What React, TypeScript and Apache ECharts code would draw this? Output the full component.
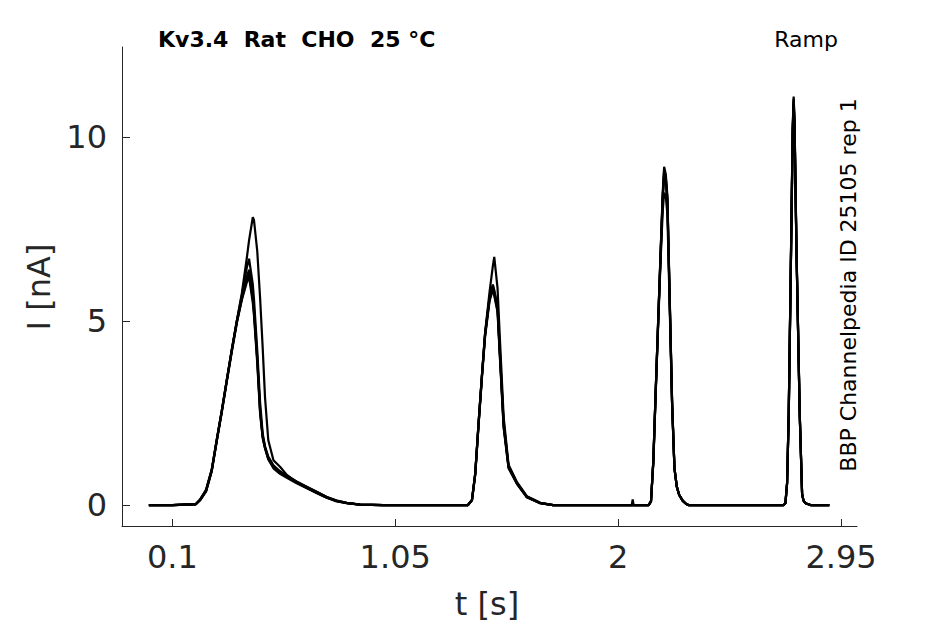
import React, { useEffect, useRef } from "react";
import * as echarts from "echarts";

// Time points (s) for each ramp segment
const ramp1Times = [0, 0.1, 0.2, 0.218, 0.244, 0.268, 0.289, 0.311, 0.332, 0.353, 0.375, 0.396, 0.417, 0.427, 0.443, 0.448, 0.462, 0.474, 0.485, 0.495, 0.509, 0.531, 0.559, 0.588, 0.63, 0.673, 0.715, 0.758, 0.8, 0.844, 0.9, 1.0, 1.2, 1.36];
const ramp2Times = [1.377, 1.391, 1.405, 1.42, 1.433, 1.452, 1.466, 1.472, 1.486, 1.497, 1.512, 1.533, 1.569, 1.611, 1.668, 1.723, 1.9, 2.05];
const ramp3Times = [2.058, 2.062, 2.066, 2.13, 2.14, 2.15, 2.16, 2.17, 2.18, 2.19, 2.196, 2.203, 2.21, 2.22, 2.23, 2.24, 2.25, 2.26, 2.275, 2.29, 2.3, 2.6];
const ramp4Times = [2.705, 2.713, 2.72, 2.727, 2.737, 2.744, 2.748, 2.752, 2.76, 2.774, 2.784, 2.79, 2.798, 2.82, 2.9];

// Currents (nA), one array per sweep and ramp
const sweep1Ramp1 = [0, 0, 0.03, 0.14, 0.42, 0.97, 1.75, 2.57, 3.4, 4.2, 5.02, 5.75, 6.7, 7.2, 7.83, 7.75, 6.9, 5.64, 4.29, 2.93, 1.76, 1.22, 1.04, 0.82, 0.62, 0.47, 0.33, 0.2, 0.11, 0.05, 0.01, 0, 0, 0];
const sweep2Ramp1 = [0, 0, 0.02, 0.14, 0.4, 0.95, 1.76, 2.57, 3.39, 4.2, 5.01, 5.7, 6.45, 6.7, 6.0, 5.6, 4.2, 2.8, 1.95, 1.6, 1.32, 1.08, 0.92, 0.8, 0.64, 0.5, 0.36, 0.22, 0.12, 0.06, 0.01, 0, 0, 0];
const sweep3Ramp1 = [0, 0, 0.02, 0.13, 0.38, 0.93, 1.74, 2.55, 3.37, 4.18, 4.98, 5.62, 6.2, 6.4, 5.7, 5.35, 4.0, 2.6, 1.88, 1.57, 1.27, 1.04, 0.88, 0.77, 0.61, 0.48, 0.35, 0.21, 0.11, 0.05, 0.01, 0, 0, 0];
const sweep4Ramp1 = [0, 0, 0.02, 0.13, 0.37, 0.92, 1.72, 2.53, 3.35, 4.15, 4.95, 5.58, 6.05, 6.2, 5.5, 5.15, 3.85, 2.49, 1.82, 1.54, 1.24, 1.0, 0.85, 0.74, 0.59, 0.46, 0.33, 0.2, 0.1, 0.05, 0.01, 0, 0, 0];
const sweep5Ramp1 = [0, 0, 0.03, 0.15, 0.41, 0.96, 1.77, 2.58, 3.4, 4.22, 5.0, 5.6, 6.12, 6.3, 5.6, 5.25, 3.95, 2.55, 1.86, 1.56, 1.26, 1.02, 0.9, 0.79, 0.63, 0.49, 0.36, 0.22, 0.12, 0.06, 0.01, 0, 0, 0];

const sweep1Ramp2 = [0.14, 0.86, 2.21, 3.57, 4.7, 5.8, 6.5, 6.75, 5.9, 4.4, 2.4, 1.1, 0.62, 0.24, 0.06, 0, 0, 0];
const sweep2Ramp2 = [0.14, 0.86, 2.21, 3.57, 4.65, 5.64, 5.96, 5.8, 5.37, 4.02, 2.21, 1.04, 0.59, 0.22, 0.05, 0, 0, 0];
const sweep3Ramp2 = [0.13, 0.84, 2.18, 3.54, 4.62, 5.6, 5.9, 5.75, 5.3, 3.95, 2.15, 1.02, 0.58, 0.21, 0.05, 0, 0, 0];
const sweep4Ramp2 = [0.12, 0.82, 2.15, 3.5, 4.58, 5.55, 5.85, 5.7, 5.25, 3.9, 2.1, 1.0, 0.57, 0.21, 0.05, 0, 0, 0];
const sweep5Ramp2 = [0.14, 0.87, 2.22, 3.58, 4.66, 5.66, 6.0, 5.85, 5.4, 4.05, 2.24, 1.06, 0.6, 0.23, 0.06, 0, 0, 0];

const sweep1Ramp3 = [0, 0.15, 0, 0, 0.1, 1.2, 3.1, 4.9, 6.7, 8.5, 9.2, 9.0, 8.4, 5.6, 2.8, 1.0, 0.5, 0.28, 0.12, 0.03, 0, 0];
const sweep2Ramp3 = [0, 0, 0, 0, 0.1, 1.2, 3.1, 4.9, 6.7, 8.4, 9.1, 8.9, 8.3, 5.5, 2.75, 1.0, 0.5, 0.28, 0.12, 0.03, 0, 0];
const sweep3Ramp3 = [0, 0, 0, 0, 0.1, 1.15, 3.0, 4.8, 6.5, 8.0, 8.5, 8.4, 7.9, 5.3, 2.7, 1.0, 0.5, 0.27, 0.11, 0.03, 0, 0];
const sweep4Ramp3 = [0, 0, 0, 0, 0.1, 1.2, 3.05, 4.85, 6.6, 8.3, 8.95, 8.8, 8.2, 5.5, 2.75, 1.0, 0.5, 0.28, 0.12, 0.03, 0, 0];
const sweep5Ramp3 = [0, 0, 0, 0, 0.1, 1.2, 3.1, 4.9, 6.65, 8.4, 9.05, 8.9, 8.3, 5.5, 2.8, 1.0, 0.5, 0.28, 0.12, 0.03, 0, 0];

const sweep1Ramp4 = [0, 0.05, 0.6, 2.49, 7.0, 10.3, 11.11, 10.4, 7.0, 2.49, 0.3, 0.12, 0.05, 0, 0];
const sweep2Ramp4 = [0, 0.05, 0.6, 2.45, 6.95, 10.2, 11.0, 10.3, 6.95, 2.45, 0.3, 0.12, 0.05, 0, 0];
const sweep3Ramp4 = [0, 0.05, 0.58, 2.42, 6.9, 10.1, 10.9, 10.2, 6.9, 2.42, 0.3, 0.12, 0.05, 0, 0];
const sweep4Ramp4 = [0, 0.05, 0.6, 2.47, 6.98, 10.25, 11.05, 10.35, 6.98, 2.47, 0.3, 0.12, 0.05, 0, 0];
const sweep5Ramp4 = [0, 0.05, 0.59, 2.44, 6.92, 10.15, 10.95, 10.25, 6.92, 2.44, 0.3, 0.12, 0.05, 0, 0];

const xTickValues = [0.1, 1.05, 2, 2.95];
const yTickValues = [0, 5, 10];

const titleText = "Kv3.4  Rat  CHO  25 °C";
const protocolText = "Ramp";
const sourceText = "BBP Channelpedia ID 25105 rep 1";
const xName = "t [s]";
const yName = "I [nA]";

const allTimes = [...ramp1Times, ...ramp2Times, ...ramp3Times, ...ramp4Times];
const sweeps = [
  [...sweep1Ramp1, ...sweep1Ramp2, ...sweep1Ramp3, ...sweep1Ramp4],
  [...sweep2Ramp1, ...sweep2Ramp2, ...sweep2Ramp3, ...sweep2Ramp4],
  [...sweep3Ramp1, ...sweep3Ramp2, ...sweep3Ramp3, ...sweep3Ramp4],
  [...sweep4Ramp1, ...sweep4Ramp2, ...sweep4Ramp3, ...sweep4Ramp4],
  [...sweep5Ramp1, ...sweep5Ramp2, ...sweep5Ramp3, ...sweep5Ramp4],
];

const FONT = "'DejaVu Sans', sans-serif";
const AXIS_COLOR = "#262626";

export default function App() {
  const ref = useRef<HTMLDivElement>(null);
  useEffect(() => {
    if (!ref.current) return;
    const chart = echarts.init(ref.current, undefined, { renderer: "svg" });
    chart.setOption({
      animation: false,
      backgroundColor: "#ffffff",
      grid: { left: 122, right: 88, top: 47, bottom: 98 },
      xAxis: {
        type: "value",
        min: -0.1145,
        max: 3.018,
        axisLine: { show: true, onZero: false, lineStyle: { color: AXIS_COLOR, width: 1 } },
        axisTick: { show: true, inside: true, length: 7, customValues: xTickValues, lineStyle: { color: AXIS_COLOR, width: 1 } },
        axisLabel: { customValues: xTickValues, fontSize: 32, color: AXIS_COLOR, fontFamily: FONT, margin: 15 },
        splitLine: { show: false },
      },
      yAxis: {
        type: "value",
        min: -0.57,
        max: 12.46,
        axisLine: { show: true, onZero: false, lineStyle: { color: AXIS_COLOR, width: 1 } },
        axisTick: { show: true, inside: true, length: 8, customValues: yTickValues, lineStyle: { color: AXIS_COLOR, width: 1 } },
        axisLabel: { customValues: yTickValues, fontSize: 32, color: AXIS_COLOR, fontFamily: FONT, margin: 15 },
        splitLine: { show: false },
      },
      series: sweeps.map((vals, k) => ({
        type: "line",
        name: "sweep " + (k + 1),
        data: allTimes.map((t, i) => [t, vals[i]]),
        showSymbol: false,
        symbol: "none",
        lineStyle: { color: "#000000", width: 2.2 },
        silent: true,
      })),
      graphic: [
        {
          type: "text",
          x: 158,
          y: 39,
          style: { text: titleText, font: `bold 22px ${FONT}`, fill: "#000", textAlign: "left", textVerticalAlign: "middle" },
        },
        {
          type: "text",
          x: 838,
          y: 39,
          style: { text: protocolText, font: `22px ${FONT}`, fill: "#000", textAlign: "right", textVerticalAlign: "middle" },
        },
        {
          type: "text",
          x: 848,
          y: 285,
          rotation: Math.PI / 2,
          style: { text: sourceText, font: `22px ${FONT}`, fill: "#000", textAlign: "center", textVerticalAlign: "middle" },
        },
        {
          type: "text",
          x: 487,
          y: 604,
          style: { text: xName, font: `32px ${FONT}`, fill: AXIS_COLOR, textAlign: "center", textVerticalAlign: "middle" },
        },
        {
          type: "text",
          x: 39,
          y: 287,
          rotation: Math.PI / 2,
          style: { text: yName, font: `32px ${FONT}`, fill: AXIS_COLOR, textAlign: "center", textVerticalAlign: "middle" },
        },
      ],
    });
    return () => chart.dispose();
  }, []);
  return (
    <div
      ref={ref}
      style={{ position: "fixed", left: 0, top: 0, width: 945, height: 624, background: "#fff" }}
    />
  );
}
